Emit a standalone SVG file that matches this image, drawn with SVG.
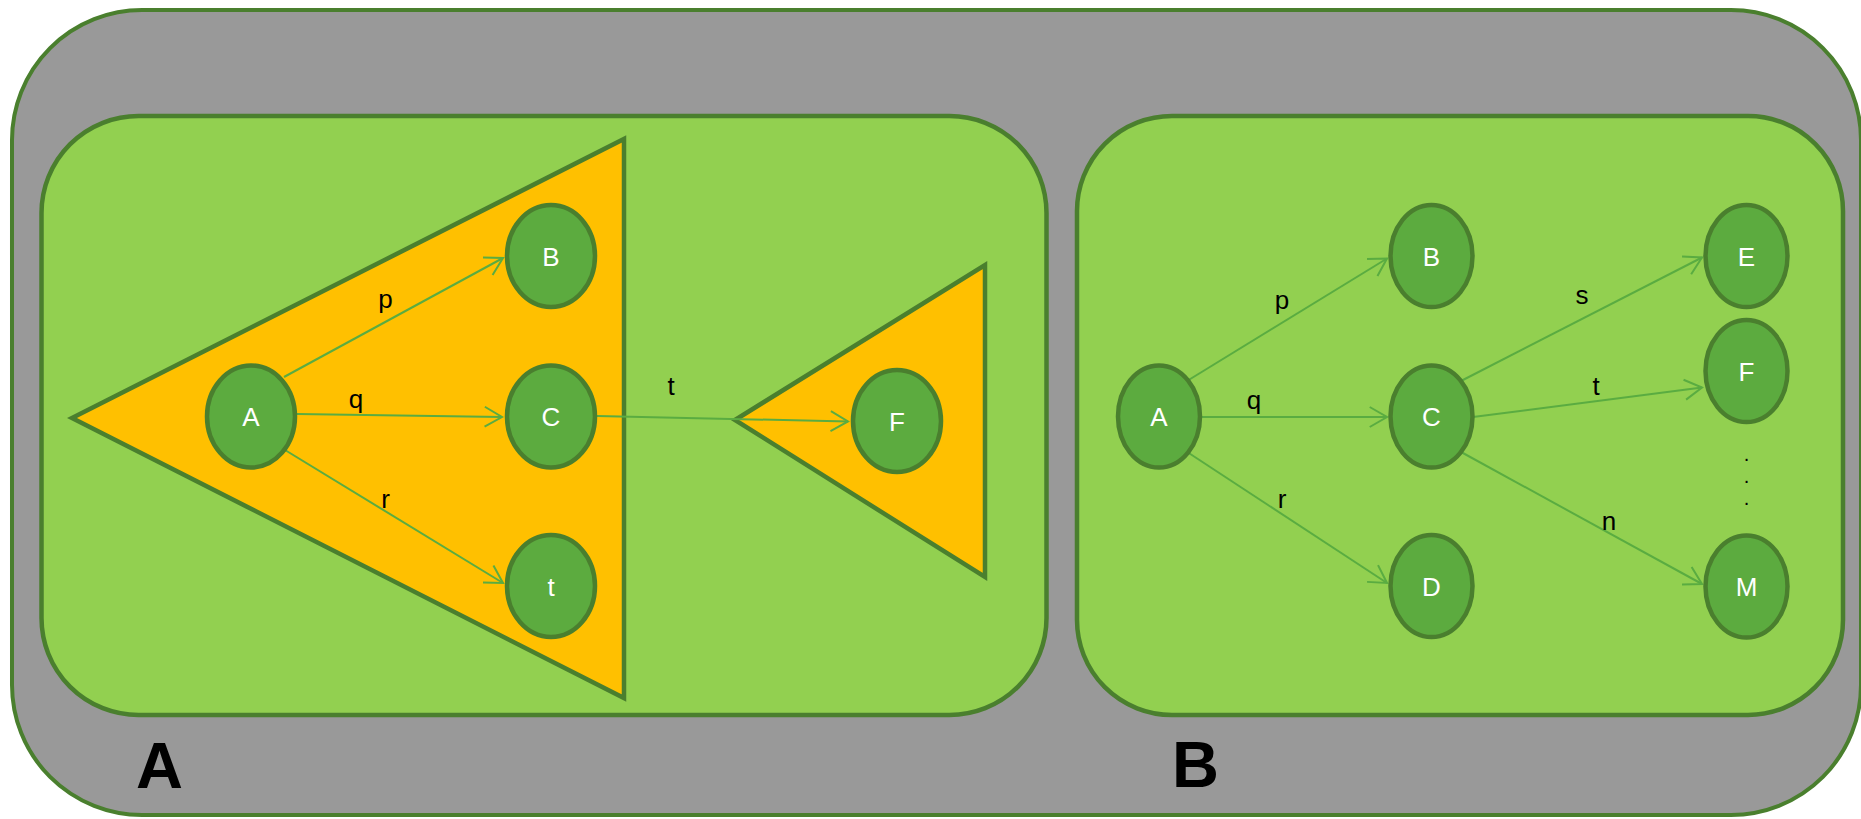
<svg xmlns="http://www.w3.org/2000/svg" width="1861" height="819" viewBox="0 0 1861 819">
<style>
.frame{fill:#999999;stroke:#4a7f2e;stroke-width:4}
.panel{fill:#92d050;stroke:#4a7f2e;stroke-width:4.5}
.tri{fill:#ffc000;stroke:#4a7f2e;stroke-width:4.5;stroke-linejoin:miter}
.node{fill:#5cab3f;stroke:#4a7f2e;stroke-width:4.5}
.nt{font-family:"Liberation Sans",Arial,sans-serif;font-size:26px;fill:#ffffff;text-anchor:middle}
.el{font-family:"Liberation Sans",Arial,sans-serif;font-size:26px;fill:#000000;text-anchor:middle}
.big{font-family:"Liberation Sans",Arial,sans-serif;font-size:65px;font-weight:bold;fill:#000000}
.edge{stroke:#5aac41;stroke-width:2;fill:none;marker-end:url(#arr)}
</style>
<defs>
<marker id="arr" markerUnits="userSpaceOnUse" markerWidth="24" markerHeight="24" viewBox="0 0 24 24" refX="21" refY="12" orient="auto" overflow="visible">
<path d="M3.7,2 L21,12 L3.7,22" fill="none" stroke="#5aac41" stroke-width="2"/>
</marker>
</defs>
<rect class="frame" x="12" y="10" width="1849" height="805" rx="130" ry="130"/>
<g id="panelA">
<rect class="panel" x="41.5" y="116" width="1005" height="599" rx="97" ry="97"/>
<text class="big" x="136" y="788">A</text>
</g>
<g id="panelB">
<rect class="panel" x="1077" y="116" width="766" height="599" rx="95" ry="95"/>
<text class="big" x="1172" y="787">B</text>
</g>
<polygon id="triangle1" class="tri" points="72,418 624,139 624,698"/>
<polygon id="triangle2" class="tri" points="735,420 985,265 985,577"/>
<g id="connectors">
<line class="edge" x1="284" y1="377" x2="503" y2="258"/>
<line class="edge" x1="297" y1="414" x2="502" y2="417"/>
<line class="edge" x1="285" y1="450" x2="503" y2="583"/>
<line class="edge" x1="597" y1="416" x2="848" y2="421.5"/>
<line class="edge" x1="1187" y1="381" x2="1387" y2="258.5"/>
<line class="edge" x1="1200" y1="417" x2="1387" y2="417"/>
<line class="edge" x1="1188" y1="452.5" x2="1387" y2="583"/>
<line class="edge" x1="1461" y1="381" x2="1702" y2="257.5"/>
<line class="edge" x1="1473" y1="417" x2="1702" y2="387.5"/>
<line class="edge" x1="1462" y1="452.5" x2="1702" y2="584"/>
<text class="el" x="385.5" y="307.5">p</text>
<text class="el" x="356" y="408">q</text>
<text class="el" x="385.5" y="508">r</text>
<text class="el" x="671" y="395">t</text>
<text class="el" x="1282" y="308.5">p</text>
<text class="el" x="1254" y="408.5">q</text>
<text class="el" x="1282" y="508">r</text>
<text class="el" x="1582" y="304">s</text>
<text class="el" x="1596" y="395">t</text>
<text class="el" x="1609" y="530">n</text>
</g>
<g id="L_A"><ellipse class="node" cx="251" cy="416.5" rx="44" ry="51"/><text class="nt" x="251" y="426">A</text></g>
<g id="L_B"><ellipse class="node" cx="551" cy="256" rx="44" ry="51"/><text class="nt" x="551" y="265.5">B</text></g>
<g id="L_C"><ellipse class="node" cx="551" cy="416.5" rx="44" ry="51"/><text class="nt" x="551" y="426">C</text></g>
<g id="L_t"><ellipse class="node" cx="551" cy="586" rx="44" ry="51"/><text class="nt" x="551" y="595.5">t</text></g>
<g id="L_F"><ellipse class="node" cx="897" cy="421" rx="44" ry="51"/><text class="nt" x="897" y="430.5">F</text></g>
<g id="R_A"><ellipse class="node" cx="1159" cy="416.5" rx="41" ry="51"/><text class="nt" x="1159" y="426">A</text></g>
<g id="R_B"><ellipse class="node" cx="1431.5" cy="256" rx="41" ry="51"/><text class="nt" x="1431.5" y="265.5">B</text></g>
<g id="R_C"><ellipse class="node" cx="1431.5" cy="416.5" rx="41" ry="51"/><text class="nt" x="1431.5" y="426">C</text></g>
<g id="R_D"><ellipse class="node" cx="1431.5" cy="586" rx="41" ry="51"/><text class="nt" x="1431.5" y="595.5">D</text></g>
<g id="R_E"><ellipse class="node" cx="1746.5" cy="256" rx="41" ry="51"/><text class="nt" x="1746.5" y="265.5">E</text></g>
<g id="R_F"><ellipse class="node" cx="1746.5" cy="371" rx="41" ry="51"/><text class="nt" x="1746.5" y="380.5">F</text></g>
<g id="R_M"><ellipse class="node" cx="1746.5" cy="586.5" rx="41" ry="51"/><text class="nt" x="1746.5" y="596">M</text></g>
<g id="dots" font-family="Liberation Sans, Arial, sans-serif" font-size="20" text-anchor="middle" fill="#000000">
<text x="1746.5" y="461">.</text>
<text x="1746.5" y="483">.</text>
<text x="1746.5" y="505">.</text>
</g>
</svg>
